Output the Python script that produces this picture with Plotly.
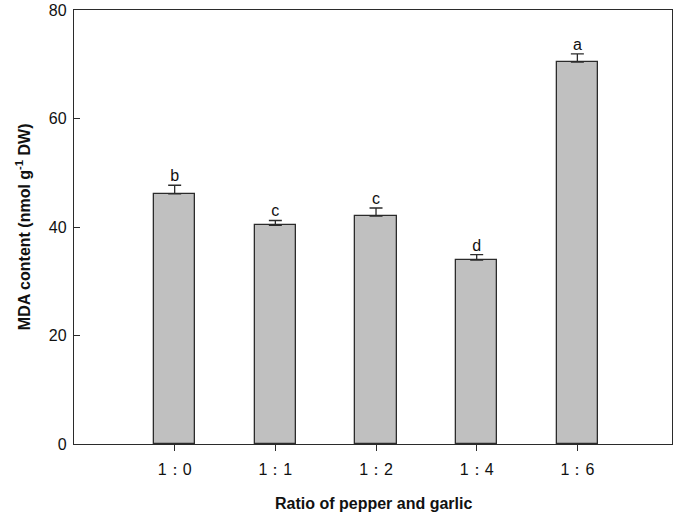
import plotly.graph_objects as go

ratios = ["1：0", "1：1", "1：2", "1：4", "1：6"]
mda = [46.1, 40.3, 42.0, 33.9, 70.4]
mda_err = [1.6, 0.9, 1.5, 1.0, 1.5]
letters = ["b", "c", "c", "d", "a"]

FONT = "Liberation Sans, Arial, sans-serif"
INK = "#2b2b2b"
TXT = dict(family=FONT, size=16, color="#111")

fig = go.Figure()
fig.add_trace(go.Bar(
    x=ratios, y=mda, width=0.41,
    marker=dict(color="#c0c0c0", line=dict(color=INK, width=1.3)),
    error_y=dict(type="data", array=mda_err, arrayminus=[0] * len(mda),
                 symmetric=False, color=INK, thickness=1.3, width=6.5),
    showlegend=False, hoverinfo="x+y",
))
fig.add_trace(go.Scatter(
    x=ratios, y=[v + e for v, e in zip(mda, mda_err)],
    mode="text", text=letters, textposition="top center",
    textfont=TXT, showlegend=False, hoverinfo="skip",
))

fig.update_xaxes(
    range=[-1.0, 4.94], showline=True, linecolor=INK, linewidth=1.3, mirror=True,
    ticks="outside", ticklen=6, tickcolor=INK, showgrid=False, automargin=False,
    ticklabelstandoff=5, tickfont=TXT,
)
fig.update_yaxes(
    range=[0, 80], dtick=20, showline=True, linecolor=INK, linewidth=1.3, mirror=True,
    ticks="inside", ticklen=6, tickcolor=INK, showgrid=False, zeroline=False,
    automargin=False, ticklabelstandoff=3, tickfont=TXT,
)
# axis titles placed as annotations so their position is exact
fig.add_annotation(text="<b>Ratio of pepper and garlic</b>", xref="paper", yref="paper",
                   x=0.5, y=-0.136, xanchor="center", yanchor="middle",
                   showarrow=False, font=TXT)
fig.add_annotation(text="<b>MDA content (nmol g<sup>-1</sup> DW)</b>", xref="paper",
                   yref="paper", x=-0.085, y=0.5, xanchor="center", yanchor="middle",
                   textangle=-90, showarrow=False, font=TXT)
fig.update_layout(
    width=683, height=516,
    margin=dict(l=74, r=11, t=10, b=72),
    plot_bgcolor="white", paper_bgcolor="white",
    bargap=0,
)
# drop the browser's default 8px body margin so the figure fills the window
fig.write_html("out.html", config={"displayModeBar": False},
               post_script="document.body.style.margin='0';")
